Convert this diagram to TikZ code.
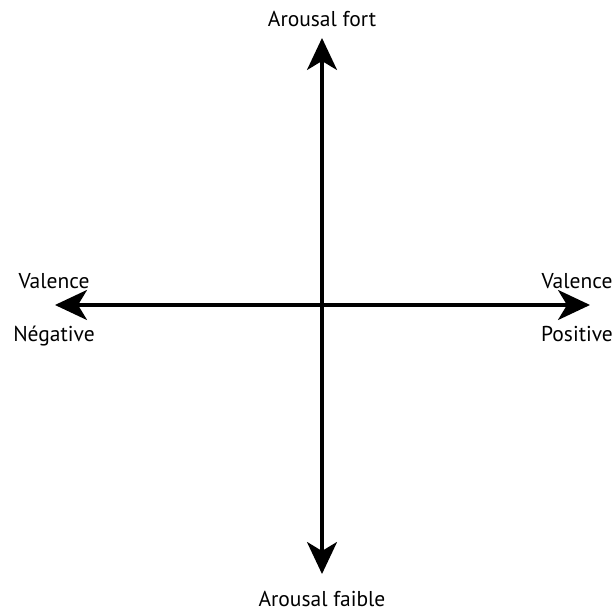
\documentclass[tikz,border=0pt]{standalone}
\usepackage{fontspec}
\setmainfont{PT Sans}
\usetikzlibrary{arrows.meta}

\begin{document}
\begin{tikzpicture}[x=1pt, y=1pt, >={Stealth[length=32pt, width=30pt, inset=9pt]},
  axis/.style={line width=3.2pt, ->},
  lbl/.style={font=\fontsize{21.5}{26}\selectfont, inner sep=0pt, anchor=base}]
  \useasboundingbox (0,0) rectangle (616,612);
  % axes ends
  \coordinate (O) at (322,307);
  \coordinate (N) at (322,574);
  \coordinate (S) at (322,38);
  \coordinate (W) at (55,307);
  \coordinate (E) at (590,307);
  \draw[axis] (O) -- (N);
  \draw[axis] (O) -- (S);
  \draw[axis] (O) -- (W);
  \draw[axis] (O) -- (E);
  % labels (placed by baseline)
  \node[lbl] (haut) at (322,585) {Arousal fort};
  \node[lbl] (bas) at (322,5) {Arousal faible};
  \node[lbl] (valg) at (54,323) {Valence};
  \node[lbl] (neg) at (54,270) {Négative};
  \node[lbl] (vald) at (577,323) {Valence};
  \node[lbl] (pos) at (577,270) {Positive};
\end{tikzpicture}
\end{document}
